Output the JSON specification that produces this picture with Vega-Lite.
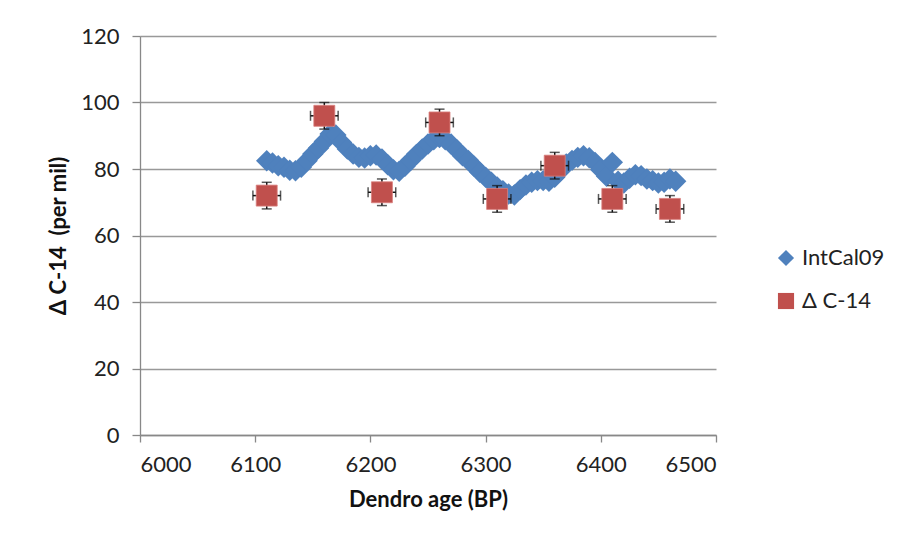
{
  "$schema": "https://vega.github.io/schema/vega-lite/v6.json",
  "width": 576,
  "height": 399,
  "autosize": {"type": "none"},
  "padding": {"left": 140, "top": 36, "right": 186, "bottom": 113},
  "background": "white",
  "config": {
    "view": {"stroke": null},
    "font": "Lato",
    "axis": {
      "labelFont": "Lato",
      "labelFontSize": 22,
      "labelColor": "#222",
      "titleFont": "Lato",
      "titleFontWeight": "bold",
      "titleFontSize": 22,
      "titleColor": "#111",
      "domainColor": "#888",
      "tickColor": "#888",
      "domainWidth": 1.3,
      "tickWidth": 1.3
    },
    "legend": {
      "labelFont": "Lato",
      "labelFontSize": 22,
      "labelColor": "#222",
      "padding": 0
    }
  },
  "datasets": {
    "intcal": [
      {"age": 6110, "d14": 82.5}, {"age": 6115, "d14": 81.8}, {"age": 6120, "d14": 81.0}, {"age": 6125, "d14": 80.5},
      {"age": 6130, "d14": 79.6}, {"age": 6135, "d14": 79.5}, {"age": 6140, "d14": 80.5}, {"age": 6145, "d14": 82.5},
      {"age": 6150, "d14": 84.5}, {"age": 6155, "d14": 86.3}, {"age": 6160, "d14": 88.3}, {"age": 6165, "d14": 90.5},
      {"age": 6170, "d14": 90.2}, {"age": 6175, "d14": 88.0}, {"age": 6180, "d14": 86.0}, {"age": 6185, "d14": 84.5},
      {"age": 6190, "d14": 83.5}, {"age": 6195, "d14": 83.3}, {"age": 6200, "d14": 84.0}, {"age": 6205, "d14": 84.2},
      {"age": 6210, "d14": 83.0}, {"age": 6215, "d14": 81.3}, {"age": 6220, "d14": 79.8}, {"age": 6225, "d14": 79.3},
      {"age": 6230, "d14": 80.8}, {"age": 6235, "d14": 82.6}, {"age": 6240, "d14": 84.4}, {"age": 6245, "d14": 86.0},
      {"age": 6250, "d14": 87.5}, {"age": 6255, "d14": 88.8}, {"age": 6260, "d14": 89.5}, {"age": 6265, "d14": 88.8},
      {"age": 6270, "d14": 87.5}, {"age": 6275, "d14": 85.8}, {"age": 6280, "d14": 84.0}, {"age": 6285, "d14": 82.6},
      {"age": 6290, "d14": 80.8}, {"age": 6295, "d14": 79.0}, {"age": 6300, "d14": 77.5}, {"age": 6305, "d14": 76.0},
      {"age": 6310, "d14": 74.6}, {"age": 6315, "d14": 73.5}, {"age": 6320, "d14": 72.5}, {"age": 6325, "d14": 72.2},
      {"age": 6330, "d14": 73.8}, {"age": 6335, "d14": 75.2}, {"age": 6340, "d14": 76.0}, {"age": 6345, "d14": 76.5},
      {"age": 6350, "d14": 76.5}, {"age": 6355, "d14": 76.3}, {"age": 6360, "d14": 77.5}, {"age": 6365, "d14": 79.5},
      {"age": 6370, "d14": 81.5}, {"age": 6375, "d14": 82.6}, {"age": 6380, "d14": 83.5}, {"age": 6385, "d14": 84.0},
      {"age": 6390, "d14": 83.4}, {"age": 6395, "d14": 82.0}, {"age": 6400, "d14": 79.8}, {"age": 6405, "d14": 77.8},
      {"age": 6410, "d14": 82.0}, {"age": 6415, "d14": 76.3}, {"age": 6420, "d14": 75.8}, {"age": 6425, "d14": 77.2},
      {"age": 6430, "d14": 78.3}, {"age": 6435, "d14": 78.0}, {"age": 6440, "d14": 77.0}, {"age": 6445, "d14": 76.5},
      {"age": 6450, "d14": 75.8}, {"age": 6455, "d14": 76.0}, {"age": 6460, "d14": 77.0}, {"age": 6465, "d14": 76.3}
    ],
    "meas": [
      {"age": 6110, "d14": 72, "xerr": 12, "yerr": 4},
      {"age": 6160, "d14": 96, "xerr": 12, "yerr": 4},
      {"age": 6210, "d14": 73, "xerr": 12, "yerr": 4},
      {"age": 6260, "d14": 94, "xerr": 12, "yerr": 4},
      {"age": 6310, "d14": 71, "xerr": 12, "yerr": 4},
      {"age": 6360, "d14": 81, "xerr": 12, "yerr": 4},
      {"age": 6410, "d14": 71, "xerr": 12, "yerr": 4},
      {"age": 6460, "d14": 68, "xerr": 12, "yerr": 4}
    ]
  },
  "layer": [
    {
      "data": {"name": "intcal"},
      "mark": {"type": "point", "filled": true, "opacity": 1, "size": 460},
      "encoding": {
        "x": {"field": "age", "type": "quantitative", "scale": {"domain": [6000, 6500], "nice": false, "zero": false},
              "axis": {"values": [6000, 6100, 6200, 6300, 6400, 6500], "format": "d", "grid": false, "tickSize": 7, "labelPadding": 12, "titlePadding": 14},
              "title": "Dendro age (BP)"},
        "y": {"field": "d14", "type": "quantitative", "scale": {"domain": [0, 120], "nice": false},
              "axis": {"values": [0, 20, 40, 60, 80, 100, 120], "grid": true, "gridColor": "#999", "gridWidth": 1.4, "tickSize": 8, "labelPadding": 13, "titlePadding": 10},
              "title": "Δ C-14\u00a0\u00a0(per mil)"},
        "color": {"datum": "IntCal09", "type": "nominal",
                  "scale": {"domain": ["IntCal09", "Δ C-14"], "range": ["#4F81BD", "#C0504D"]},
                  "legend": {"title": null, "orient": "none", "legendX": 635, "legendY": 211, "symbolSize": 260, "rowPadding": 21, "labelOffset": 5, "symbolOpacity": 1, "symbolStrokeWidth": 0}},
        "shape": {"datum": "IntCal09", "type": "nominal",
                  "scale": {"domain": ["IntCal09", "Δ C-14"], "range": ["diamond", "square"]},
                  "legend": {"title": null, "orient": "none", "legendX": 635, "legendY": 211, "symbolSize": 260, "rowPadding": 21, "labelOffset": 5, "symbolOpacity": 1, "symbolStrokeWidth": 0}}
      }
    },
    {
      "data": {"name": "meas"},
      "mark": {"type": "errorbar", "color": "#111", "thickness": 1.5, "ticks": {"size": 10, "thickness": 1.5, "color": "#111"}},
      "encoding": {
        "x": {"field": "age", "type": "quantitative", "title": "Dendro age (BP)"},
        "y": {"field": "d14", "type": "quantitative", "title": "Δ C-14\u00a0\u00a0(per mil)"},
        "yError": {"field": "yerr"}
      }
    },
    {
      "data": {"name": "meas"},
      "mark": {"type": "errorbar", "color": "#111", "thickness": 1.5, "ticks": {"size": 10, "thickness": 1.5, "color": "#111"}},
      "encoding": {
        "y": {"field": "d14", "type": "quantitative", "title": "Δ C-14\u00a0\u00a0(per mil)"},
        "x": {"field": "age", "type": "quantitative", "title": "Dendro age (BP)"},
        "xError": {"field": "xerr"}
      }
    },
    {
      "data": {"name": "meas"},
      "mark": {"type": "point", "filled": true, "opacity": 1, "size": 440, "stroke": "#D9807E", "strokeWidth": 0.8},
      "encoding": {
        "x": {"field": "age", "type": "quantitative", "title": "Dendro age (BP)"},
        "y": {"field": "d14", "type": "quantitative", "title": "Δ C-14\u00a0\u00a0(per mil)"},
        "color": {"datum": "Δ C-14", "type": "nominal"},
        "shape": {"datum": "Δ C-14", "type": "nominal"}
      }
    }
  ]
}
